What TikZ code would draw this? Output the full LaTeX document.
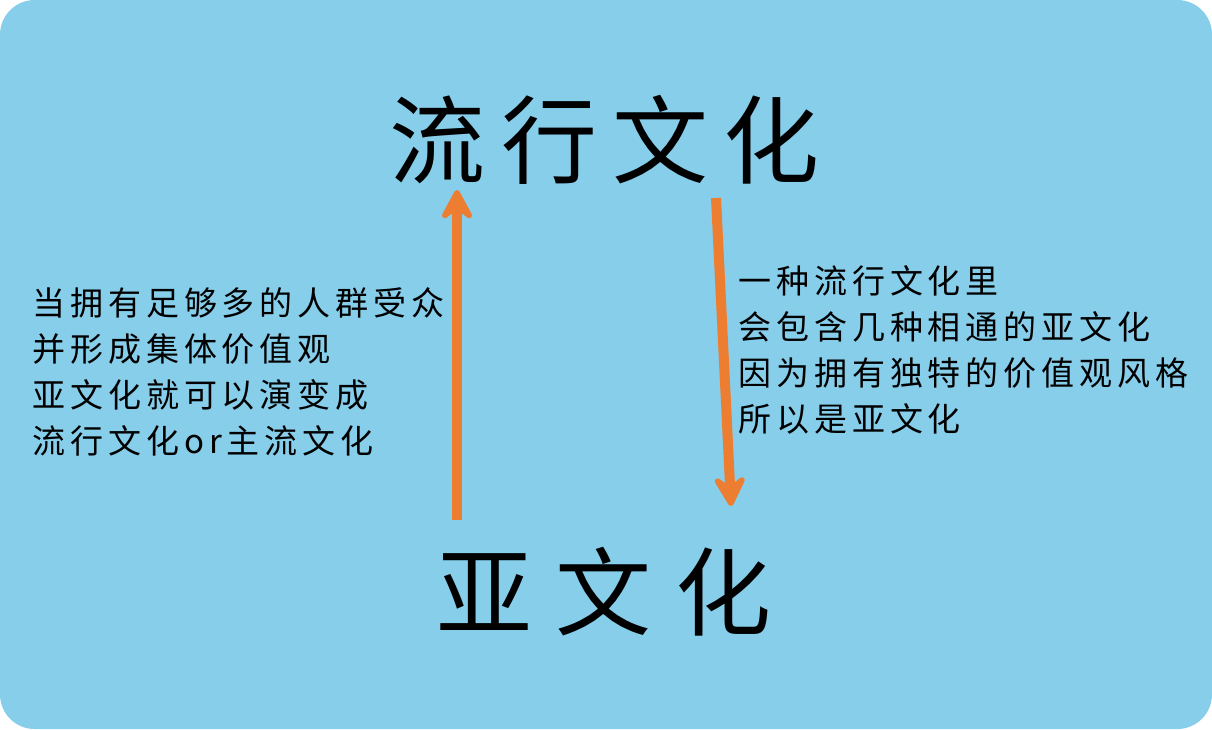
\documentclass[tikz,border=0pt]{standalone}
\usepackage{fontspec}
\usetikzlibrary{arrows.meta}
\newfontfamily\cjkls{Noto Sans CJK SC}[LetterSpace=15]
\newfontfamily\cjktitle{Noto Sans CJK SC}[BoldFont=*,BoldFeatures={LetterSpace=16}]
\newfontfamily\cjktitleb{Noto Sans CJK SC}[BoldFont=*,BoldFeatures={LetterSpace=24}]
\definecolor{skyb}{RGB}{135,206,235}
\definecolor{arrowor}{RGB}{237,125,49}
\tikzset{
  body/.style={inner sep=0pt, align=left, anchor=north west, text=black,
    font=\cjkls\fontsize{24.75}{34.5}\selectfont},
  title/.style={inner sep=0pt, anchor=center, text=black,
    font=\cjktitle\bfseries\fontsize{72}{72}\selectfont},
  titleb/.style={title, font=\cjktitleb\bfseries\fontsize{72}{72}\selectfont},
  orarrow/.style={draw=arrowor, line width=7.5pt,
    -{Stealth[length=29pt, width=31pt, inset=12pt, round]}}
}
\begin{document}
\begin{tikzpicture}[x=0.75pt,y=-0.75pt]
\useasboundingbox (0,0) rectangle (1212,729);
\fill[white] (0,0) rectangle (1212,729);
\fill[skyb, rounded corners=26pt] (0,0) rectangle (1212,729);

\node[title] (t1) at (605,140) {流行文化};
\node[titleb] (t2) at (604,592) {亚文化};

\coordinate (ua) at (457,520);
\coordinate (ub) at (457,190);
\coordinate (da) at (716,198);
\coordinate (db) at (731,506);
\draw[orarrow] (ua) -- (ub);
\draw[orarrow] (da) -- (db);

\node[body] (lt) at (32,287) {当拥有足够多的人群受众\\并形成集体价值观\\亚文化就可以演变成\\流行文化or主流文化};
\node[body] (rt) at (738,265) {一种流行文化里\\会包含几种相通的亚文化\\因为拥有独特的价值观风格\\所以是亚文化};
\end{tikzpicture}
\end{document}
